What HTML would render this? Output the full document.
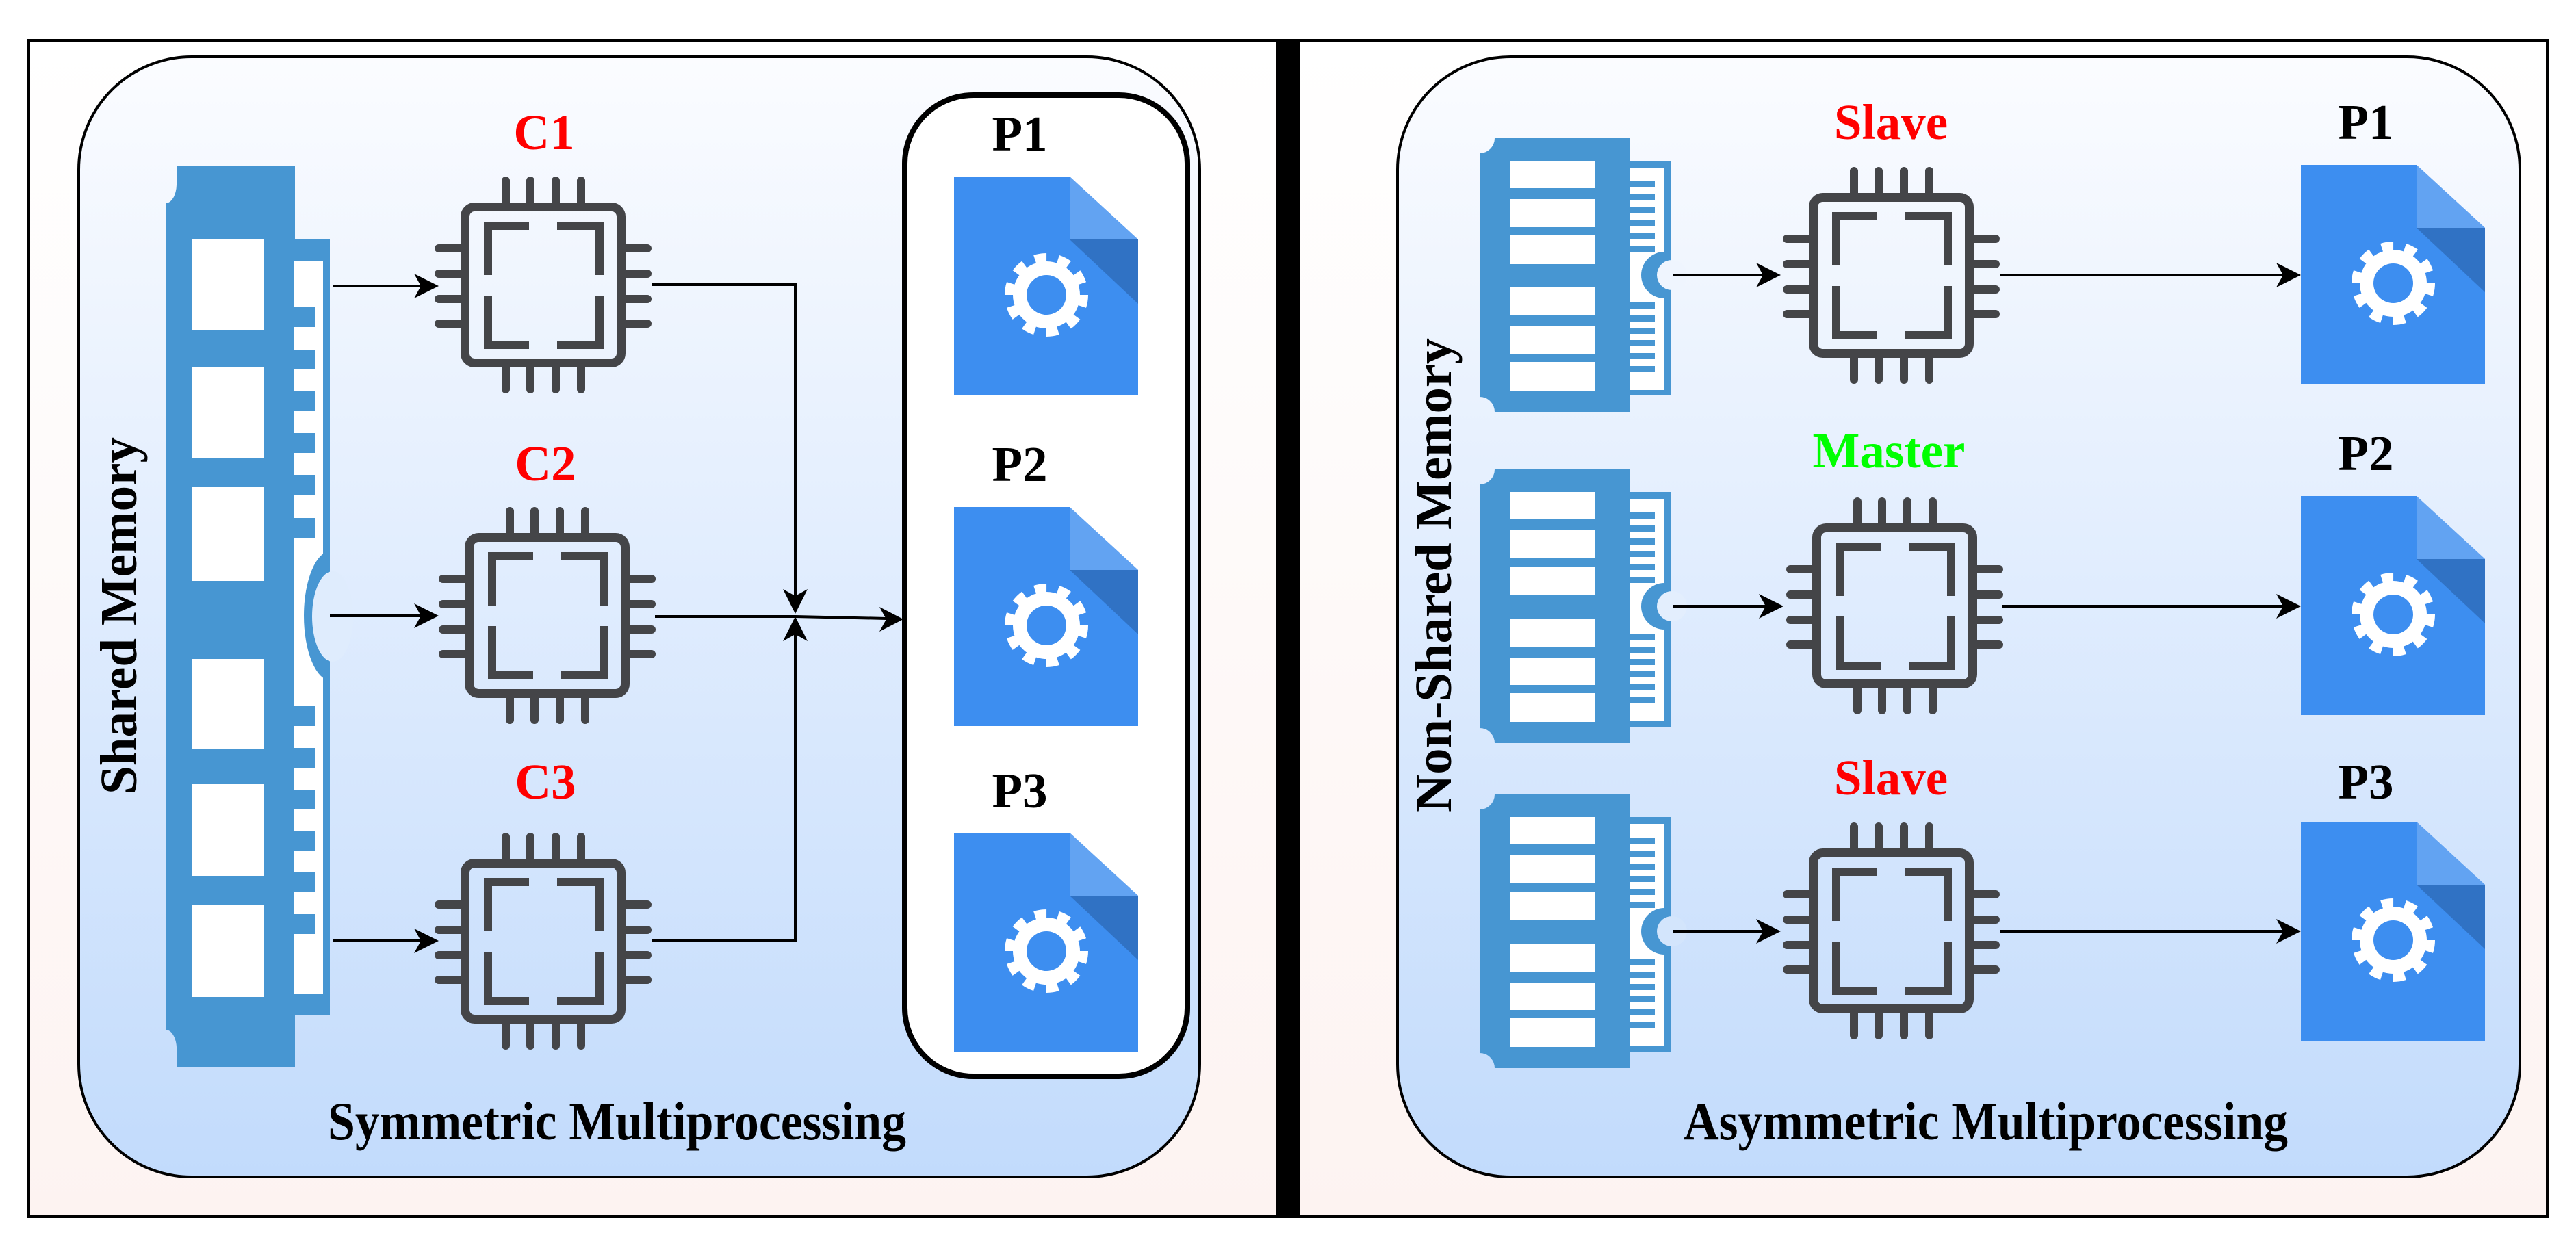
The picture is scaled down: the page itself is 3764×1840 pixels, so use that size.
<!DOCTYPE html>
<html><head><meta charset="utf-8"><style>
html,body{margin:0;padding:0;background:#fff;}
svg{display:block;}
</style></head><body>
<svg width="3764" height="1840" viewBox="0 0 3764 1840" xmlns="http://www.w3.org/2000/svg" font-family="'Liberation Serif', 'DejaVu Serif', serif" font-weight="bold">
<defs>
<linearGradient id="outer" x1="0" y1="0" x2="0" y2="1">
<stop offset="0" stop-color="#ffffff"/><stop offset="1" stop-color="#fdf3f1"/>
</linearGradient>
<linearGradient id="panel" x1="0" y1="0" x2="0" y2="1">
<stop offset="0" stop-color="#fbfcff"/><stop offset="1" stop-color="#c2dbfc"/>
</linearGradient>
<clipPath id="modclip"><rect x="200" y="0" width="92" height="420"/></clipPath>
<clipPath id="lclip"><rect x="400" y="780" width="82" height="240"/></clipPath>
<g id="chip" fill="none" stroke="#444548" stroke-linecap="round">
<rect x="6.5" y="6.5" width="228" height="228" rx="14" stroke-width="13"/>
<g stroke-width="12">
<path d="M66,-32V0M102,-32V0M139,-32V0M176,-32V0"/>
<path d="M66,241V273M102,241V273M139,241V273M176,241V273"/>
<path d="M-32,67H0M-32,104H0M-32,141H0M-32,177H0"/>
<path d="M241,67H273M241,104H273M241,141H273M241,177H273"/>
<path d="M40,106V34H100" stroke-linecap="butt"/>
<path d="M141,34H203V106" stroke-linecap="butt"/>
<path d="M40,136V208H100" stroke-linecap="butt"/>
<path d="M141,208H203V136" stroke-linecap="butt"/>
</g>
</g>
<g id="doc">
<polygon points="0,0 169,0 269,92 269,320 0,320" fill="#3d8ef0"/>
<polygon points="169,0 269,92 169,92" fill="#62a3f2"/>
<polygon points="169,92 269,92 269,186" fill="#3072c4"/>
<circle cx="135" cy="173" r="54" fill="none" stroke="#fff" stroke-width="14" stroke-dasharray="17 16.9"/>
<circle cx="135" cy="173" r="49" fill="#fff"/>
<circle cx="135" cy="173" r="29" fill="#3d8ef0"/>
</g>
<g id="mod">
<path d="M34,12 H232 V412 H34 A22,22 0 0 0 12,390 V34 A22,22 0 0 0 34,12 Z" fill="#4796d2"/>
<rect x="232" y="45" width="60" height="343" fill="#4796d2"/>
<rect x="232" y="55" width="49" height="325" fill="#fff"/>
<g fill="#4796d2">
<rect x="232" y="75" width="36" height="9"/><rect x="232" y="94" width="36" height="9"/><rect x="232" y="113" width="36" height="9"/><rect x="232" y="131" width="36" height="9"/><rect x="232" y="150" width="36" height="9"/><rect x="232" y="169" width="36" height="9"/>
<rect x="232" y="252" width="36" height="9"/><rect x="232" y="271" width="36" height="9"/><rect x="232" y="289" width="36" height="9"/><rect x="232" y="307" width="36" height="9"/><rect x="232" y="326" width="36" height="9"/><rect x="232" y="345" width="36" height="9"/>
<circle cx="282" cy="212" r="34" clip-path="url(#modclip)"/>
</g>
<g fill="#fff">
<rect x="57" y="45" width="124" height="40"/><rect x="57" y="101" width="124" height="41"/><rect x="57" y="154" width="124" height="42"/>
<rect x="57" y="230" width="124" height="41"/><rect x="57" y="287" width="124" height="40"/><rect x="57" y="339" width="124" height="42"/>
</g>
</g>
</defs>

<!-- outer frames -->
<rect x="42" y="59" width="1824" height="1719" fill="url(#outer)" stroke="#000" stroke-width="4"/>
<rect x="1898" y="59" width="1824" height="1719" fill="url(#outer)" stroke="#000" stroke-width="4"/>
<rect x="1864" y="57" width="36" height="1723" fill="#000"/>

<!-- LEFT PANEL -->
<rect x="115" y="83" width="1638" height="1637" rx="165" fill="url(#panel)" stroke="#000" stroke-width="4"/>
<rect x="1322" y="139" width="413" height="1434" rx="100" fill="#fff" stroke="#000" stroke-width="8"/>

<!-- shared memory stick -->
<g>
<path d="M258,243 H431 V1559 H258 V1530 A16,28 0 0 0 242,1505 V297 A16,28 0 0 0 258,270 Z" fill="#4796d2"/>
<rect x="430" y="349" width="52" height="1134" fill="#4796d2"/>
<rect x="430" y="381" width="42" height="1072" fill="#fff"/>
<g fill="#4796d2">
<rect x="430" y="449" width="31" height="29"/><rect x="430" y="511" width="31" height="29"/><rect x="430" y="572" width="31" height="29"/><rect x="430" y="633" width="31" height="29"/><rect x="430" y="694" width="31" height="29"/><rect x="430" y="757" width="31" height="29"/>
<rect x="430" y="1032" width="31" height="29"/><rect x="430" y="1093" width="31" height="29"/><rect x="430" y="1154" width="31" height="29"/><rect x="430" y="1215" width="31" height="28"/><rect x="430" y="1275" width="31" height="29"/><rect x="430" y="1336" width="31" height="29"/>
<ellipse cx="484" cy="900" rx="40" ry="95" clip-path="url(#lclip)"/>
</g>
<ellipse cx="486" cy="901" rx="30" ry="66" fill="#dfecfd"/>
<g fill="#fff">
<rect x="281" y="350" width="105" height="133"/><rect x="281" y="536" width="105" height="133"/><rect x="281" y="712" width="105" height="137"/>
<rect x="281" y="963" width="105" height="131"/><rect x="281" y="1146" width="105" height="134"/><rect x="281" y="1322" width="105" height="135"/>
</g>
</g>

<use href="#chip" x="673" y="296"/>
<use href="#chip" x="679" y="779"/>
<use href="#chip" x="673" y="1255"/>

<g stroke="#000" stroke-width="4" fill="none">
<path d="M486,418H615"/><path d="M482,900H615"/><path d="M486,1375H615"/>
<path d="M952,416H1162V880"/><path d="M952,1375H1162V915"/>
<path d="M957,901H1162L1295,904"/>
</g>
<g fill="#000">
<path d="M641,418 L605,400 L615,418 L605,436Z"/>
<path d="M641,900 L605,882 L615,900 L605,918Z"/>
<path d="M641,1375 L605,1357 L615,1375 L605,1393Z"/>
<path d="M1162,897 L1144,861 L1162,871 L1180,861Z"/>
<path d="M1162,901 L1144,937 L1162,927 L1180,937Z"/>
<path d="M1320,905 L1285,887 L1295,905 L1285,923Z"/>
</g>

<use href="#doc" x="1394" y="258"/>
<use href="#doc" x="1394" y="741"/>
<use href="#doc" x="1394" y="1217"/>

<g font-size="73" text-anchor="middle">
<text x="795" y="218" fill="#ff0000">C1</text>
<text x="797" y="702" fill="#ff0000">C2</text>
<text x="797" y="1167" fill="#ff0000">C3</text>
<text x="1490" y="220" fill="#000">P1</text>
<text x="1490" y="703" fill="#000">P2</text>
<text x="1490" y="1180" fill="#000">P3</text>
</g>
<text x="479" y="1665" font-size="78" textLength="845" lengthAdjust="spacingAndGlyphs">Symmetric Multiprocessing</text>
<text transform="translate(199,1161) rotate(-90)" font-size="76" textLength="522" lengthAdjust="spacingAndGlyphs">Shared Memory</text>

<!-- RIGHT PANEL -->
<rect x="2042" y="83" width="1640" height="1637" rx="165" fill="url(#panel)" stroke="#000" stroke-width="4"/>

<use href="#mod" x="2150" y="190"/>
<use href="#mod" x="2150" y="674"/>
<use href="#mod" x="2150" y="1149"/>
<g>
<circle cx="2443" cy="402" r="22" fill="#eff5fe"/>
<circle cx="2443" cy="886" r="22" fill="#e3eefd"/>
<circle cx="2443" cy="1361" r="22" fill="#d3e5fc"/>
</g>

<use href="#chip" x="2643" y="282"/>
<use href="#chip" x="2648" y="765"/>
<use href="#chip" x="2643" y="1240"/>

<g stroke="#000" stroke-width="4">
<path d="M2444,402H2580"/><path d="M2444,886H2585"/><path d="M2444,1361H2580"/>
<path d="M2922,402H3340"/><path d="M2926,886H3340"/><path d="M2922,1361H3340"/>
</g>
<g fill="#000">
<path d="M2602,402 L2566,384 L2576,402 L2566,420Z"/>
<path d="M2606,886 L2570,868 L2580,886 L2570,904Z"/>
<path d="M2602,1361 L2566,1343 L2576,1361 L2566,1379Z"/>
<path d="M3362,402 L3326,384 L3336,402 L3326,420Z"/>
<path d="M3362,886 L3326,868 L3336,886 L3326,904Z"/>
<path d="M3362,1361 L3326,1343 L3336,1361 L3326,1379Z"/>
</g>

<use href="#doc" x="3362" y="241"/>
<use href="#doc" x="3362" y="725"/>
<use href="#doc" x="3362" y="1201"/>

<g font-size="73" text-anchor="middle">
<text x="2763" y="203" fill="#ff0000">Slave</text>
<text x="2760" y="683" fill="#00ff00">Master</text>
<text x="2763" y="1161" fill="#ff0000">Slave</text>
<text x="3457" y="203" fill="#000">P1</text>
<text x="3457" y="687" fill="#000">P2</text>
<text x="3457" y="1167" fill="#000">P3</text>
</g>
<text x="2460" y="1665" font-size="78" textLength="883" lengthAdjust="spacingAndGlyphs">Asymmetric Multiprocessing</text>
<text transform="translate(2120,1187) rotate(-90)" font-size="76" textLength="693" lengthAdjust="spacingAndGlyphs">Non-Shared Memory</text>
</svg>
</body></html>
